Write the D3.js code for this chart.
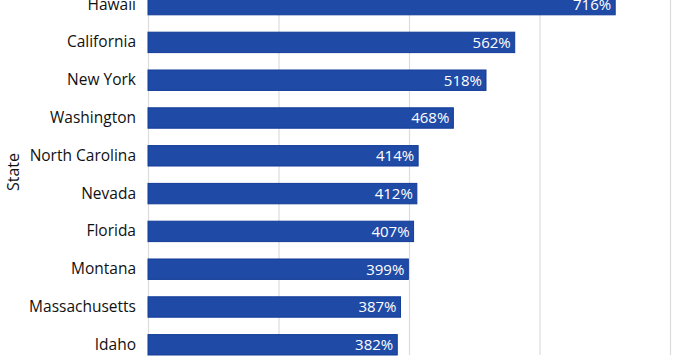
<!DOCTYPE html>
<html>
<head>
<meta charset="utf-8">
<script src="https://cdn.jsdelivr.net/npm/d3@7"></script>
<style>
  body { margin: 0; background: #fff; }
  text { font-family: "Open Sans", "Noto Sans", sans-serif; }
</style>
</head>
<body>
<svg id="chart" width="700" height="360"></svg>
<script>
const states = ["Hawaii", "California", "New York", "Washington", "North Carolina",
                "Nevada", "Florida", "Montana", "Massachusetts", "Idaho"];
const values = [716, 562, 518, 468, 414, 412, 407, 399, 387, 382];
const xTicks = [0, 200, 400, 600, 800];

const data = states.map((s, i) => ({ state: s, value: values[i] }));

const width = 700, height = 360;
const left = 148, right = 670;

const svg = d3.select("#chart");

const x = d3.scaleLinear().domain([0, 800]).range([left, right]);
const y = d3.scaleBand()
            .domain(states)
            .range([-5.6, 355])
            .paddingInner(0.46)
            .paddingOuter(0);

// gridlines
svg.append("g")
   .selectAll("line")
   .data(xTicks).enter()
   .append("line")
   .attr("x1", d => x(d) + 0.5)
   .attr("x2", d => x(d) + 0.5)
   .attr("y1", 0)
   .attr("y2", 355)
   .attr("stroke", "#dcdcdc")
   .attr("stroke-width", 1.2);

// bars
svg.append("g")
   .selectAll("rect")
   .data(data).enter()
   .append("rect")
   .attr("x", x(0))
   .attr("y", d => y(d.state))
   .attr("width", d => x(d.value) - x(0))
   .attr("height", y.bandwidth())
   .attr("fill", "#1f4aa6")
   .attr("stroke", "#123c98")
   .attr("stroke-width", 1);

// value labels
svg.append("g")
   .selectAll("text")
   .data(data).enter()
   .append("text")
   .attr("x", d => x(d.value) - 4)
   .attr("y", d => y(d.state) + y.bandwidth() / 2)
   .attr("dy", "0.36em")
   .attr("text-anchor", "end")
   .attr("fill", "#fff")
   .style("font-size", "15px")
   .text(d => d.value + "%");

// category axis
const yAxis = svg.append("g")
   .attr("transform", `translate(${left},0)`)
   .call(d3.axisLeft(y).tickSize(0).tickPadding(12));
yAxis.select(".domain").remove();
yAxis.selectAll("text")
   .style("font-family", "\"Open Sans\", \"Noto Sans\", sans-serif")
   .style("font-size", "15.5px")
   .attr("fill", "#111");

svg.append("text")
   .attr("transform", "translate(19,172) rotate(-90)")
   .attr("text-anchor", "middle")
   .attr("fill", "#111")
   .style("font-size", "16px")
   .text("State");
</script>
</body>
</html>
